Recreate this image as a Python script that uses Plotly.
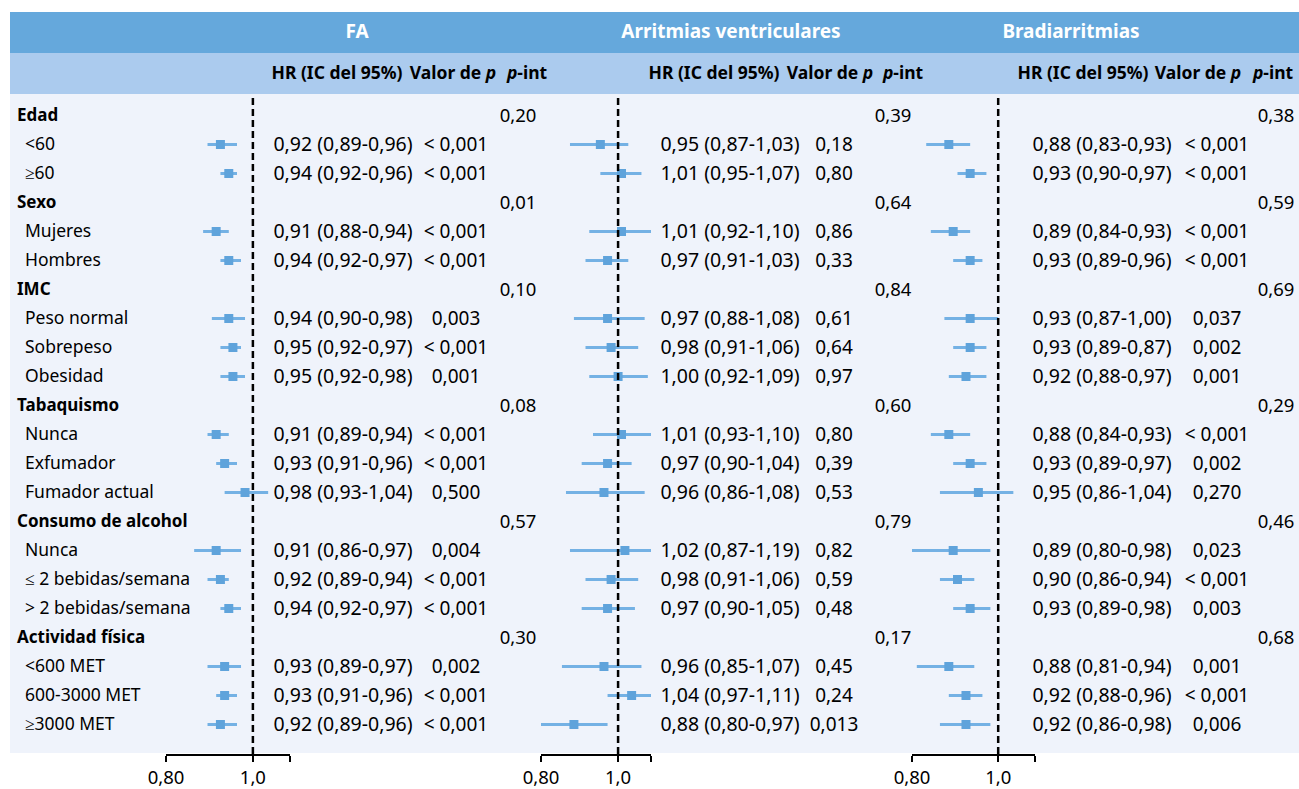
import math
import plotly.graph_objects as go

# ---------------- data ----------------
row_labels = ["Edad", "<60", "≥60", "Sexo", "Mujeres", "Hombres", "IMC", "Peso normal",
              "Sobrepeso", "Obesidad", "Tabaquismo", "Nunca", "Exfumador", "Fumador actual",
              "Consumo de alcohol", "Nunca", "≤ 2 bebidas/semana", "> 2 bebidas/semana",
              "Actividad física", "<600 MET", "600-3000 MET", "≥3000 MET"]
group_rows = [0, 3, 6, 10, 14, 18]

panel_titles = ["FA", "Arritmias ventriculares", "Bradiarritmias"]
col_headers = ["HR (IC del 95%)", "Valor de <i>p</i>", "<i>p</i>-int"]

fa_hr = [None, 0.92, 0.94, None, 0.91, 0.94, None, 0.94, 0.95, 0.95, None, 0.91, 0.93, 0.98,
         None, 0.91, 0.92, 0.94, None, 0.93, 0.93, 0.92]
fa_lo = [None, 0.89, 0.92, None, 0.88, 0.92, None, 0.90, 0.92, 0.92, None, 0.89, 0.91, 0.93,
         None, 0.86, 0.89, 0.92, None, 0.89, 0.91, 0.89]
fa_hi = [None, 0.96, 0.96, None, 0.94, 0.97, None, 0.98, 0.97, 0.98, None, 0.94, 0.96, 1.04,
         None, 0.97, 0.94, 0.97, None, 0.97, 0.96, 0.96]
fa_p = [None, "< 0,001", "< 0,001", None, "< 0,001", "< 0,001", None, "0,003", "< 0,001", "0,001",
        None, "< 0,001", "< 0,001", "0,500", None, "0,004", "< 0,001", "< 0,001", None,
        "0,002", "< 0,001", "< 0,001"]
fa_pint = ["0,20", "0,01", "0,10", "0,08", "0,57", "0,30"]

av_hr = [None, 0.95, 1.01, None, 1.01, 0.97, None, 0.97, 0.98, 1.00, None, 1.01, 0.97, 0.96,
         None, 1.02, 0.98, 0.97, None, 0.96, 1.04, 0.88]
av_lo = [None, 0.87, 0.95, None, 0.92, 0.91, None, 0.88, 0.91, 0.92, None, 0.93, 0.90, 0.86,
         None, 0.87, 0.91, 0.90, None, 0.85, 0.97, 0.80]
av_hi = [None, 1.03, 1.07, None, 1.10, 1.03, None, 1.08, 1.06, 1.09, None, 1.10, 1.04, 1.08,
         None, 1.19, 1.06, 1.05, None, 1.07, 1.11, 0.97]
av_p = [None, "0,18", "0,80", None, "0,86", "0,33", None, "0,61", "0,64", "0,97", None,
        "0,80", "0,39", "0,53", None, "0,82", "0,59", "0,48", None, "0,45", "0,24", "0,013"]
av_pint = ["0,39", "0,64", "0,84", "0,60", "0,79", "0,17"]

br_hr = [None, 0.88, 0.93, None, 0.89, 0.93, None, 0.93, 0.93, 0.92, None, 0.88, 0.93, 0.95,
         None, 0.89, 0.90, 0.93, None, 0.88, 0.92, 0.92]
br_lo = [None, 0.83, 0.90, None, 0.84, 0.89, None, 0.87, 0.89, 0.88, None, 0.84, 0.89, 0.86,
         None, 0.80, 0.86, 0.89, None, 0.81, 0.88, 0.86]
br_hi = [None, 0.93, 0.97, None, 0.93, 0.96, None, 1.00, 0.97, 0.97, None, 0.93, 0.97, 1.04,
         None, 0.98, 0.94, 0.98, None, 0.94, 0.96, 0.98]
# CI text as printed in the source (one value differs from the drawn interval)
br_ci_text = {8: "0,93 (0,89-0,87)"}
br_p = [None, "< 0,001", "< 0,001", None, "< 0,001", "< 0,001", None, "0,037", "0,002", "0,001",
        None, "< 0,001", "0,002", "0,270", None, "0,023", "< 0,001", "0,003", None,
        "0,001", "< 0,001", "0,006"]
br_pint = ["0,38", "0,59", "0,69", "0,29", "0,46", "0,68"]

tick_vals = [0.80, 1.0, 1.1]
tick_text = ["0,80", "1,0", ""]

# ---------------- layout constants (pixels) ----------------
W, H = 1299, 789
ROW0, ROWH = 115.5, 29
AXIS_Y = 754
BODY_TOP = 94
FONT = "Noto Sans"
MARK = "#5fa3db"
LINE = "#74b1e4"
TEXT_DY = 1.5 / ROWH   # small downward nudge so text centres sit on the row line

def row_of(py):
    return (py - ROW0) / ROWH

def num(v, d=2):
    return f"{v:.{d}f}".replace(".", ",")

panels = [
    dict(hr=fa_hr, lo=fa_lo, hi=fa_hi, p=fa_p, pint=fa_pint, ci_text={},
         dom=(166, 290), hr_x=343, p_x=456, pint_x=518, hdr=(337, 453, 527), title_x=357),
    dict(hr=av_hr, lo=av_lo, hi=av_hi, p=av_p, pint=av_pint, ci_text={},
         dom=(541, 651), hr_x=730, p_x=834, pint_x=893, hdr=(714, 830, 903), title_x=731),
    dict(hr=br_hr, lo=br_lo, hi=br_hi, p=br_p, pint=br_pint, ci_text=br_ci_text,
         dom=(912, 1035), hr_x=1102, p_x=1217, pint_x=1276, hdr=(1083, 1198, 1273), title_x=1071),
]

fig = go.Figure()

# ---------------- forest marks ----------------
for k, pn in enumerate(panels):
    xa = "x" if k == 0 else f"x{k+1}"
    lx, ly = [], []
    px_, py_ = [], []
    for i, h in enumerate(pn["hr"]):
        if h is None:
            continue
        lx += [pn["lo"][i], pn["hi"][i], None]
        ly += [i, i, None]
        px_.append(h)
        py_.append(i)
    fig.add_trace(go.Scatter(x=lx, y=ly, mode="lines", xaxis=xa, yaxis="y",
                             line=dict(color=LINE, width=3), hoverinfo="skip", showlegend=False))
    fig.add_trace(go.Scatter(x=px_, y=py_, mode="markers", xaxis=xa, yaxis="y",
                             marker=dict(symbol="square", size=9, color=MARK), showlegend=False))

# ---------------- text columns (on a pixel-wide helper axis x4) ----------------
def text_trace(xs, ys, texts, size, pos="middle center", bold=False, color="black"):
    t = [f"<b>{s}</b>" if bold else s for s in texts]
    return go.Scatter(x=xs, y=[v + TEXT_DY for v in ys], text=t, mode="text", textposition=pos,
                      xaxis="x4", yaxis="y",
                      textfont=dict(family=FONT, size=size, color=color),
                      hoverinfo="skip", showlegend=False, cliponaxis=False)

# row labels
gx, gy, gt, sx, sy, st = [], [], [], [], [], []
for i, lab in enumerate(row_labels):
    if i in group_rows:
        gx.append(17); gy.append(i); gt.append(lab)
    else:
        sx.append(25); sy.append(i); st.append(lab)
fig.add_trace(text_trace(gx, gy, gt, 17, pos="middle right", bold=True))
fig.add_trace(text_trace(sx, sy, st, 17.5, pos="middle right"))

for pn in panels:
    hx, hy, ht, qx, qy, qt = [], [], [], [], [], []
    for i, h in enumerate(pn["hr"]):
        if h is None:
            continue
        ci = pn["ci_text"].get(i, f"{num(h)} ({num(pn['lo'][i])}-{num(pn['hi'][i])})")
        hx.append(pn["hr_x"]); hy.append(i); ht.append(ci)
        qx.append(pn["p_x"]); qy.append(i); qt.append(pn["p"][i])
    fig.add_trace(text_trace(hx, hy, ht, 19.5))
    fig.add_trace(text_trace(qx, qy, qt, 19))
    fig.add_trace(text_trace([pn["pint_x"]] * len(group_rows), group_rows, pn["pint"], 18.5))
    # column headers
    fig.add_trace(text_trace(list(pn["hdr"]), [row_of(73)] * 3, col_headers, 17.5, bold=True))

# panel titles
fig.add_trace(text_trace([pn["title_x"] for pn in panels], [row_of(32)] * 3, panel_titles, 19,
                         bold=True, color="white"))

# ---------------- backgrounds & reference lines ----------------
def py2paper(py):
    return 1 - py / H

shapes = [
    dict(type="rect", xref="paper", yref="paper", x0=10 / W, x1=1, y0=py2paper(53), y1=py2paper(12),
         fillcolor="#65a8dc", line=dict(width=0), layer="below"),
    dict(type="rect", xref="paper", yref="paper", x0=10 / W, x1=1, y0=py2paper(BODY_TOP), y1=py2paper(53),
         fillcolor="#abcbee", line=dict(width=0), layer="below"),
    dict(type="rect", xref="paper", yref="paper", x0=10 / W, x1=1, y0=py2paper(753), y1=py2paper(BODY_TOP),
         fillcolor="#eff3fb", line=dict(width=0), layer="below"),
]
for k in range(3):
    xa = "x" if k == 0 else f"x{k+1}"
    shapes.append(dict(type="line", xref=xa, yref="paper", x0=1, x1=1,
                       y0=py2paper(AXIS_Y), y1=py2paper(BODY_TOP),
                       line=dict(color="black", width=2.5, dash="7px,4px"), layer="above"))

layout = dict(
    template="none",
    width=W, height=H, margin=dict(l=0, r=0, t=0, b=0, pad=0, autoexpand=False),
    paper_bgcolor="white", plot_bgcolor="rgba(0,0,0,0)",
    font=dict(family=FONT, size=17, color="black"),
    showlegend=False, shapes=shapes,
    yaxis=dict(domain=[1 - AXIS_Y / H, 1], range=[row_of(AXIS_Y), row_of(0)], visible=False,
               showgrid=False, zeroline=False, fixedrange=True, automargin=False),
    xaxis4=dict(domain=[0, 1], range=[0, W], anchor="y", visible=False,
                showgrid=False, zeroline=False, automargin=False),
)
for k, pn in enumerate(panels):
    key = "xaxis" if k == 0 else f"xaxis{k+1}"
    layout[key] = dict(
        type="log", domain=[pn["dom"][0] / W, pn["dom"][1] / W],
        range=[math.log10(0.80), math.log10(1.1)], anchor="y",
        showline=True, linecolor="black", linewidth=2, mirror=False,
        ticks="outside", ticklen=6, tickwidth=2, tickcolor="black",
        tickvals=tick_vals, ticktext=tick_text, showgrid=False, zeroline=False,
        automargin=False,
        tickfont=dict(family=FONT, size=18.5, color="black"), ticklabelstandoff=0,
    )
fig.update_layout(**layout)
fig.write_html("out.html")
